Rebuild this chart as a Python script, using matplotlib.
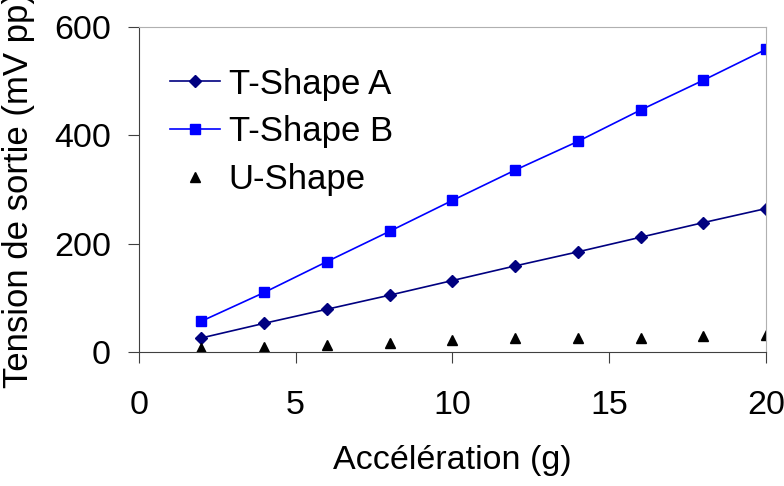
import numpy as np
import matplotlib.pyplot as plt

plt.rcParams['font.family'] = ['Liberation Sans', 'DejaVu Sans']

accel = [2, 4, 6, 8, 10, 12, 14, 16, 18, 20]
t_shape_a = [26, 53, 79, 105, 132, 159, 185, 212, 239, 265]
t_shape_b = [57, 110, 167, 223, 280, 336, 389, 447, 502, 559]
u_shape = [7, 10, 13, 17, 23, 25, 25, 25, 29, 31]

fig = plt.figure(figsize=(7.84, 4.86), dpi=100)
ax = fig.add_axes([0.177, 0.2757, 0.8, 0.6683])

ax.plot(accel, t_shape_a, color='#000080', marker='D', markersize=6, lw=1.2, label='T-Shape A')
ax.plot(accel, t_shape_b, color='#0000FF', marker='s', markersize=7, lw=1.2, label='T-Shape B')
ax.plot(accel, u_shape, color='black', marker='^', markersize=7, ls='none', label='U-Shape')

ax.set_xlim(0, 20)
ax.set_ylim(0, 600)
ax.set_xticks([0, 5, 10, 15, 20])
ax.set_yticks([0, 200, 400, 600])
ax.tick_params(labelsize=24.5, length=8, color='#404040')
ax.tick_params(axis='x', pad=19)
ax.tick_params(axis='y', pad=12)
for side in ['top', 'right']:
    ax.spines[side].set_color('#b0b0b0')
for side in ['left', 'bottom']:
    ax.spines[side].set_color('#404040')

ax.set_xlabel('Accélération (g)', fontsize=24.5, va='center')
ax.xaxis.set_label_coords(0.5, -0.335)
ax.set_ylabel('Tension de sortie (mV pp)', fontsize=25, labelpad=14)

ax.legend(loc='upper left', frameon=False, fontsize=25, handlelength=1.44,
          bbox_to_anchor=(0.0, 0.972), labelspacing=0.43, handletextpad=0.25)

fig.savefig('out.png', dpi=100)
